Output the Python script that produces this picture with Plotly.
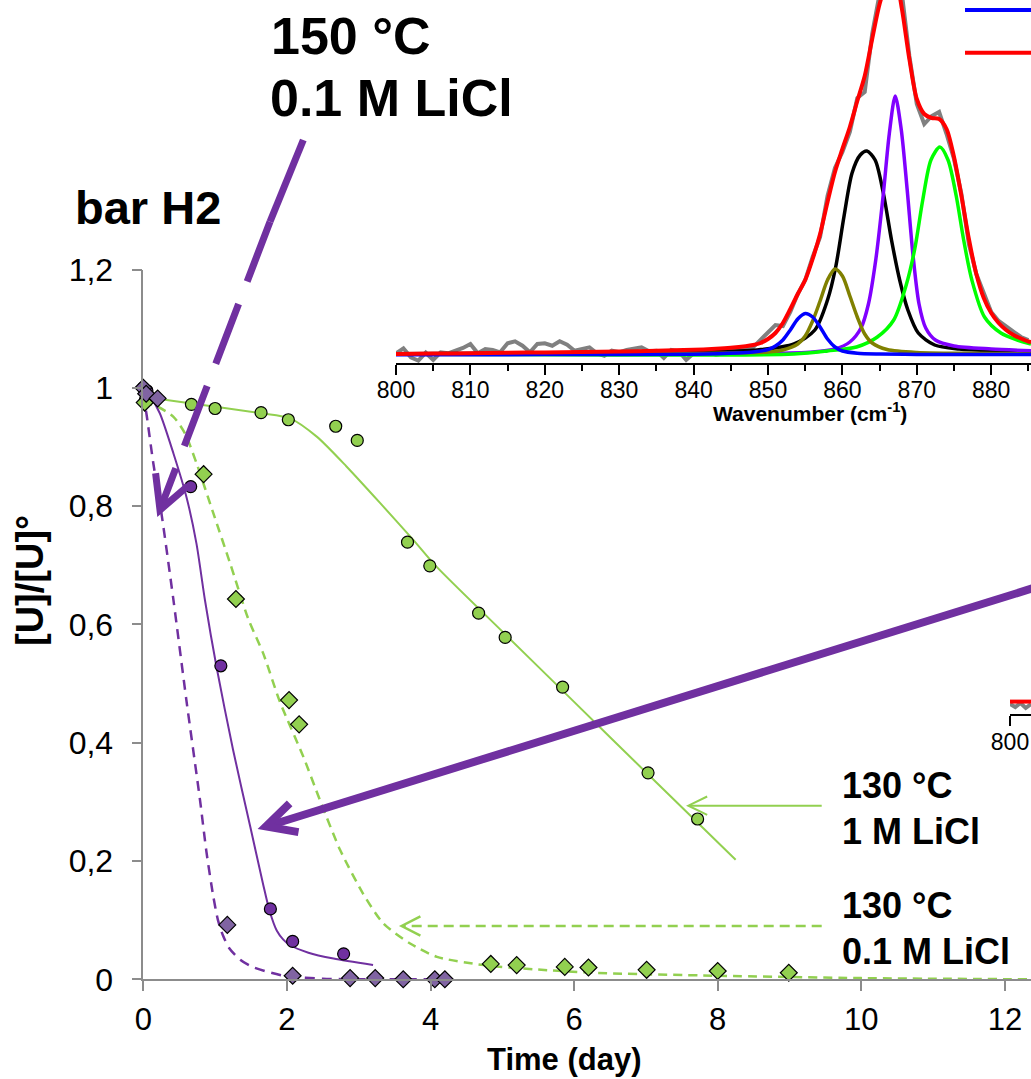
import math
import plotly.graph_objects as go

W, H = 1031, 1079
FONT = "Liberation Sans, Arial, sans-serif"

# ---------------- main chart data (Time in days, [U]/[U]°) ----------------
# 150 °C, circles (purple)
t_p_circ = [0, 0.05, 0.66, 1.08, 1.77, 2.08, 2.79]
y_p_circ = [1.0, 0.995, 0.833, 0.530, 0.119, 0.064, 0.043]
# 150 °C, diamonds (purple)
t_p_diam = [0, 0.04, 0.2, 1.17, 2.08, 2.88, 3.23, 3.62, 4.06, 4.2]
y_p_diam = [1.0, 0.99, 0.982, 0.092, 0.006, 0.002, 0.002, 0.0, 0.0, 0.0]
# 130 °C 1 M LiCl, circles (green)
t_g_circ = [0.03, 0.67, 1.0, 1.64, 2.02, 2.68, 2.98, 3.68, 3.99, 4.67, 5.04, 5.84, 7.03, 7.72]
y_g_circ = [0.98, 0.972, 0.965, 0.958, 0.946, 0.935, 0.911, 0.739, 0.699, 0.619, 0.578, 0.494, 0.349, 0.271]
# 130 °C 0.1 M LiCl, diamonds (green)
t_g_diam = [0.02, 0.84, 1.29, 2.03, 2.17, 4.84, 5.2, 5.87, 6.2, 7.01, 8.0, 8.99]
y_g_diam = [0.975, 0.854, 0.643, 0.472, 0.431, 0.026, 0.024, 0.021, 0.02, 0.016, 0.014, 0.011]

# fitted curves
t_fit_p_solid = [0, 0.1, 0.23, 0.42, 0.6, 0.74, 0.86, 1.02, 1.25, 1.49, 1.67, 1.76, 1.86, 1.95, 2.04, 2.3,
                 2.65, 3.2]
y_fit_p_solid = [1.0, 0.985, 0.957, 0.889, 0.816, 0.737, 0.64, 0.528, 0.388, 0.258, 0.16, 0.115, 0.082, 0.067,
                 0.058, 0.045, 0.035, 0.024]
t_fit_p_dash = [0, 0.05, 0.14, 0.25, 0.42, 0.6, 0.79, 0.88, 0.975, 1.04, 1.11, 1.2, 1.35, 1.5, 1.72, 2.0, 2.5,
                3.0, 4.0]
y_fit_p_dash = [0.99, 0.951, 0.872, 0.79, 0.641, 0.472, 0.303, 0.215, 0.14, 0.1, 0.074, 0.052, 0.033, 0.022,
                0.013, 0.005, 0.001, 0.0, 0.0]
t_fit_g_solid = [0, 0.65, 1.63, 2.05, 2.42, 2.83, 3.30, 3.76, 4.08, 5.0, 6.0, 7.0, 8.25]
y_fit_g_solid = [0.985, 0.974, 0.957, 0.948, 0.917, 0.867, 0.805, 0.743, 0.698, 0.588, 0.469, 0.350, 0.202]
t_fit_g_dash = [0, 0.2, 0.42, 0.58, 0.74, 0.975, 1.21, 1.46, 1.67, 1.9, 2.23, 2.46, 2.74, 3.06, 3.34, 3.71,
                4.09, 4.74, 5.43, 6.27, 8.0, 10.0, 12.36]
y_fit_g_dash = [0.975, 0.968, 0.951, 0.923, 0.873, 0.788, 0.703, 0.61, 0.551, 0.47, 0.376, 0.303, 0.219, 0.145,
                0.095, 0.061, 0.038, 0.024, 0.017, 0.011, 0.006, 0.002, 0.0]

x_ticks = [0, 2, 4, 6, 8, 10, 12]
y_ticks = [0, 0.2, 0.4, 0.6, 0.8, 1.0, 1.2]
y_tick_text = ["0", "0,2", "0,4", "0,6", "0,8", "1", "1,2"]

# ---------------- inset Raman spectrum (wavenumber, intensity a.u.) ----------------
wn_raw = list(range(800, 886))
int_raw = [0.007, 0.057, -0.033, -0.067, 0.013, -0.06, 0.017, 0.007, 0.033, 0.06,
           0.1, 0.007, 0.05, 0.04, 0.017, 0.107, 0.127, 0.083, 0.017, 0.1,
           0.107, 0.083, 0.127, 0.093, 0.033, 0.05, 0.067, 0.007, -0.017, 0.033,
           0.017, 0.04, 0.05, 0.067, 0.027, 0.033, -0.04, 0.04, 0.027, -0.06,
           0.007, 0.027, 0.017, -0.007, 0.007, 0.04, 0.06, 0.05, 0.067, 0.14,
           0.207, 0.29, 0.28, 0.42, 0.6, 0.74, 0.97, 1.17, 1.58, 1.86,
           2.02, 2.22, 2.56, 2.62, 3.2, 3.6, 3.85, 3.9, 3.6, 2.98,
           2.5, 2.3, 2.38, 2.42, 2.2, 1.95, 1.6, 1.1, 0.8, 0.6,
           0.42, 0.33, 0.28, 0.22, 0.17, 0.14]
wn_sum = [800, 805, 810, 815, 820, 825, 830, 835, 840, 843, 845, 847, 848, 849, 850, 851, 852, 853, 854, 855,
          856, 857, 858, 859, 860, 861, 862, 863, 864, 865, 866, 866.6, 867.2, 868, 869, 870, 871, 872, 873,
          874, 875, 876, 877, 878, 879, 880, 881, 882, 883, 884, 885, 885.35]
int_sum = [0.0, 0.004, 0.008, 0.012, 0.016, 0.02, 0.025, 0.032, 0.042, 0.052, 0.062, 0.078, 0.09, 0.11, 0.15,
           0.21, 0.31, 0.45, 0.6, 0.74, 0.95, 1.2, 1.52, 1.82, 2.05, 2.27, 2.53, 2.78, 3.15, 3.5, 3.72, 3.78,
           3.74, 3.45, 2.95, 2.55, 2.4, 2.36, 2.35, 2.25, 1.97, 1.58, 1.15, 0.8, 0.56, 0.41, 0.31, 0.24, 0.19,
           0.155, 0.125, 0.12]
wn_blue = [800, 820, 840, 846, 848, 850, 851, 852, 853, 854, 855, 856, 857, 858, 859, 860, 862, 865, 870, 885.35]
int_blue = [-0.008, -0.006, -0.002, 0.01, 0.02, 0.045, 0.08, 0.14, 0.24, 0.35, 0.405, 0.37, 0.27, 0.15, 0.07,
            0.03, 0.008, 0.0, -0.004, -0.006]
wn_olive = [800, 840, 850, 852, 854, 855, 856, 857, 858, 859, 860, 861, 862, 863, 864, 866, 870, 880, 885.35]
int_olive = [0.0, 0.005, 0.02, 0.04, 0.1, 0.18, 0.33, 0.53, 0.74, 0.85, 0.78, 0.58, 0.37, 0.2, 0.11, 0.045,
             0.015, 0.005, 0.0]
wn_black = [800, 830, 840, 848.5, 853.5, 856.3, 858, 859.1, 860.2, 861.3, 862.4, 863.3, 864.4, 865.5, 866.6,
            867.7, 868.8, 870.2, 872.4, 875.7, 881.3, 885.35]
int_black = [0.003, 0.01, 0.02, 0.04, 0.1, 0.24, 0.54, 0.87, 1.37, 1.81, 1.99, 2.03, 1.94, 1.61, 1.14, 0.74,
             0.44, 0.21, 0.09, 0.05, 0.03, 0.02]
wn_violet = [800, 850, 856, 859, 861, 862.5, 863.5, 864.5, 865.5, 866.3, 867.1, 867.9, 868.7, 869.5, 870.3,
             871.2, 872.5, 875, 880, 885.35]
int_violet = [0.0, 0.005, 0.02, 0.05, 0.12, 0.26, 0.5, 0.95, 1.6, 2.2, 2.58, 2.25, 1.65, 0.98, 0.5, 0.26, 0.14,
              0.08, 0.05, 0.033]
wn_lime = [800, 853.5, 858, 861.9, 864.7, 866.9, 868.5, 869.7, 870.8, 871.9, 873.1, 874.2, 875.3, 876.3, 877.4,
           879.1, 881.3, 883.5, 885.35]
int_lime = [0.0, 0.0, 0.03, 0.07, 0.17, 0.34, 0.67, 1.04, 1.54, 1.94, 2.07, 1.94, 1.58, 1.14, 0.74, 0.37, 0.21,
            0.14, 0.1]
wn_ticks = [800, 810, 820, 830, 840, 850, 860, 870, 880]

# second (cut-off) inset fragment
wn_frag = [800, 800.7, 801.4, 802.1, 802.8]
int_frag_raw = [0.5, 0.35, 0.55, 0.3, 0.5]
int_frag_fit = [0.62, 0.62, 0.62, 0.62, 0.62]

GREEN = "#92D050"
PURPLE = "#7030A0"
PURPLE_L = "#8064A2"
AX = "#8C8C8C"


def px(x):
    return x / W


def py(y):
    return 1 - y / H


fig = go.Figure()

# ---- inset traces ----
ins = dict(xaxis="x2", yaxis="y2", mode="lines", hoverinfo="skip", showlegend=False)
fig.add_trace(go.Scatter(x=wn_raw, y=int_raw, line=dict(color="#808080", width=4), **ins))
for xs, ys, c in [(wn_black, int_black, "#000000"), (wn_violet, int_violet, "#8000FF"),
                  (wn_lime, int_lime, "#00FF00"), (wn_olive, int_olive, "#808000"),
                  (wn_blue, int_blue, "#0000FF")]:
    fig.add_trace(go.Scatter(x=xs, y=ys, line=dict(color=c, width=3.5, shape="spline", smoothing=0.8), **ins))
fig.add_trace(go.Scatter(x=wn_sum, y=int_sum, line=dict(color="#FF0000", width=4, shape="spline", smoothing=0.8), **ins))

ins3 = dict(xaxis="x3", yaxis="y3", mode="lines", hoverinfo="skip", showlegend=False)
fig.add_trace(go.Scatter(x=wn_frag, y=int_frag_raw, line=dict(color="#808080", width=4), **ins3))
fig.add_trace(go.Scatter(x=wn_frag, y=int_frag_fit, line=dict(color="#FF0000", width=4), **ins3))

# ---- main fitted curves ----
fig.add_trace(go.Scatter(x=t_fit_g_solid, y=y_fit_g_solid, mode="lines", showlegend=False,
                         line=dict(color=GREEN, width=2, shape="spline", smoothing=0.7)))
fig.add_trace(go.Scatter(x=t_fit_g_dash, y=y_fit_g_dash, mode="lines", showlegend=False,
                         line=dict(color=GREEN, width=2.5, dash="9px,6px", shape="spline", smoothing=0.7)))
fig.add_trace(go.Scatter(x=t_fit_p_solid, y=y_fit_p_solid, mode="lines", showlegend=False,
                         line=dict(color=PURPLE, width=2, shape="spline", smoothing=0.7)))
fig.add_trace(go.Scatter(x=t_fit_p_dash, y=y_fit_p_dash, mode="lines", showlegend=False,
                         line=dict(color=PURPLE, width=2.5, dash="10px,7px", shape="spline", smoothing=0.7)))

# ---- markers ----
mk_line = dict(color="black", width=1.2)
fig.add_trace(go.Scatter(x=t_g_circ, y=y_g_circ, mode="markers", showlegend=False, cliponaxis=False,
                         marker=dict(symbol="circle", size=12, color=GREEN, line=mk_line)))
fig.add_trace(go.Scatter(x=t_g_diam, y=y_g_diam, mode="markers", showlegend=False, cliponaxis=False,
                         marker=dict(symbol="diamond", size=13, color=GREEN, line=mk_line)))
fig.add_trace(go.Scatter(x=t_p_circ, y=y_p_circ, mode="markers", showlegend=False, cliponaxis=False,
                         marker=dict(symbol="circle", size=12, color=PURPLE, line=mk_line)))
fig.add_trace(go.Scatter(x=t_p_diam, y=y_p_diam, mode="markers", showlegend=False, cliponaxis=False,
                         marker=dict(symbol="diamond", size=13, color=PURPLE_L, line=mk_line)))

# ---- arrows (pixel geometry -> paper) ----
shapes = []


def seg(x0, y0, x1, y1, color, width, dash=None):
    shapes.append(dict(type="line", xref="paper", yref="paper", x0=px(x0), y0=py(y0), x1=px(x1), y1=py(y1),
                       layer="above", line=dict(color=color, width=width, dash=dash)))


def head(xt, yt, xfrom, yfrom, color, width, length, ang_deg):
    ang = math.atan2(yfrom - yt, xfrom - xt)
    pts = []
    for s in (-1, 1):
        a = ang + s * math.radians(ang_deg)
        pts.append((xt + length * math.cos(a), yt + length * math.sin(a)))
    path = "M {},{} L {},{} L {},{}".format(px(pts[0][0]), py(pts[0][1]), px(xt), py(yt),
                                             px(pts[1][0]), py(pts[1][1]))
    shapes.append(dict(type="path", xref="paper", yref="paper", path=path, layer="above",
                       line=dict(color=color, width=width)))


# purple dashed arrow (150 °C 0.1 M LiCl)
seg(303.3, 140, 270, 221.7, PURPLE, 7)
seg(270, 221.7, 161, 507, PURPLE, 7, dash="64px,24px")
head(160, 510, 303.3, 140, PURPLE, 7, 37, 28)
# purple solid arrow from right
seg(1040, 586, 271, 825, PURPLE, 8)
head(266, 826.5, 1031, 589, PURPLE, 8, 33, 27)
# green solid arrow
seg(821.7, 805.7, 689, 805.7, GREEN, 2)
head(688.3, 805.7, 821.7, 805.7, GREEN, 2, 21, 26)
# green dashed arrow
seg(821.7, 926, 403, 926, GREEN, 2.5, dash="10px,6px")
head(401.7, 926, 821.7, 926, GREEN, 2.5, 21, 27)
# inset legend line samples (cut off)
seg(965, 10, 1031, 10, "#0000FF", 4)
seg(965, 52.7, 1031, 52.7, "#FF0000", 4)

# ---- text annotations ----
ann = []


def txt(x, y, s, size, xanchor="left", angle=0):
    ann.append(dict(text=s, x=px(x), y=py(y), xref="paper", yref="paper", showarrow=False, xanchor=xanchor,
                    yanchor="middle", textangle=angle, font=dict(family=FONT, size=size, color="black")))


txt(269, 36, "<b>150 °C</b>", 52)
txt(268, 98, "<b>0.1 M LiCl</b>", 52)
txt(73, 208, "<b>bar H2</b>", 47)
txt(840, 785, "<b>130 °C</b>", 36)
txt(840, 831, "<b>1 M LiCl</b>", 36)
txt(840, 905, "<b>130 °C</b>", 36)
txt(840, 951, "<b>0.1 M LiCl</b>", 36)
txt(564, 1059, "<b>Time (day)</b>", 31, xanchor="center")
txt(30, 581, "<b>[U]/[U]°</b>", 38, xanchor="center", angle=-90)
txt(810, 412, "<b>Wavenumber (cm<sup>-1</sup>)</b>", 21, xanchor="center")

fig.update_layout(
    width=W, height=H, margin=dict(l=0, r=0, t=0, b=0),
    paper_bgcolor="white", plot_bgcolor="rgba(0,0,0,0)",
    showlegend=False, shapes=shapes, annotations=ann,
    xaxis=dict(domain=[px(143.3), 1], range=[0, (W - 143.3) / 71.8], tickvals=x_ticks,
               ticks="outside", ticklen=10, tickwidth=1.5, tickcolor=AX, showline=True, linecolor=AX,
               linewidth=1.5, showgrid=False, zeroline=False, automargin=False, ticklabelstandoff=2,
               tickfont=dict(family=FONT, size=31, color="black"), anchor="y"),
    yaxis=dict(domain=[py(979.3), py(269.5)], range=[0, 1.2], tickvals=y_ticks, ticktext=y_tick_text,
               ticks="outside", ticklen=10, tickwidth=1.5, tickcolor=AX, showline=True, linecolor=AX,
               linewidth=1.5, showgrid=False, zeroline=False, automargin=False, ticklabelstandoff=12,
               tickfont=dict(family=FONT, size=32, color="black"), anchor="x"),
    xaxis2=dict(domain=[px(396), 1], range=[800, 885.35], tickvals=wn_ticks, ticks="outside", ticklen=10,
                tickwidth=2, tickcolor="black", showline=True, linecolor="black", linewidth=2,
                showgrid=False, zeroline=False, automargin=False, anchor="y2", ticklabelstandoff=-5,
                minor=dict(dtick=5, tick0=800, ticks="outside", ticklen=6, tickwidth=2, tickcolor="black",
                           showgrid=False),
                tickfont=dict(family=FONT, size=23, color="black")),
    yaxis2=dict(domain=[py(363.3), 1], range=[-0.093, 3.54], visible=False, anchor="x2"),
    xaxis3=dict(domain=[px(1010), 1], range=[800, 802.8], tickvals=[800], ticks="outside", ticklen=10,
                tickwidth=2, tickcolor="black", showline=True, linecolor="black", linewidth=2,
                showgrid=False, zeroline=False, automargin=False, anchor="y3", ticklabelstandoff=-4,
                tickfont=dict(family=FONT, size=23, color="black")),
    yaxis3=dict(domain=[py(714), py(694)], range=[0, 1], visible=False, anchor="x3"),
)

fig.write_html("out.html")
